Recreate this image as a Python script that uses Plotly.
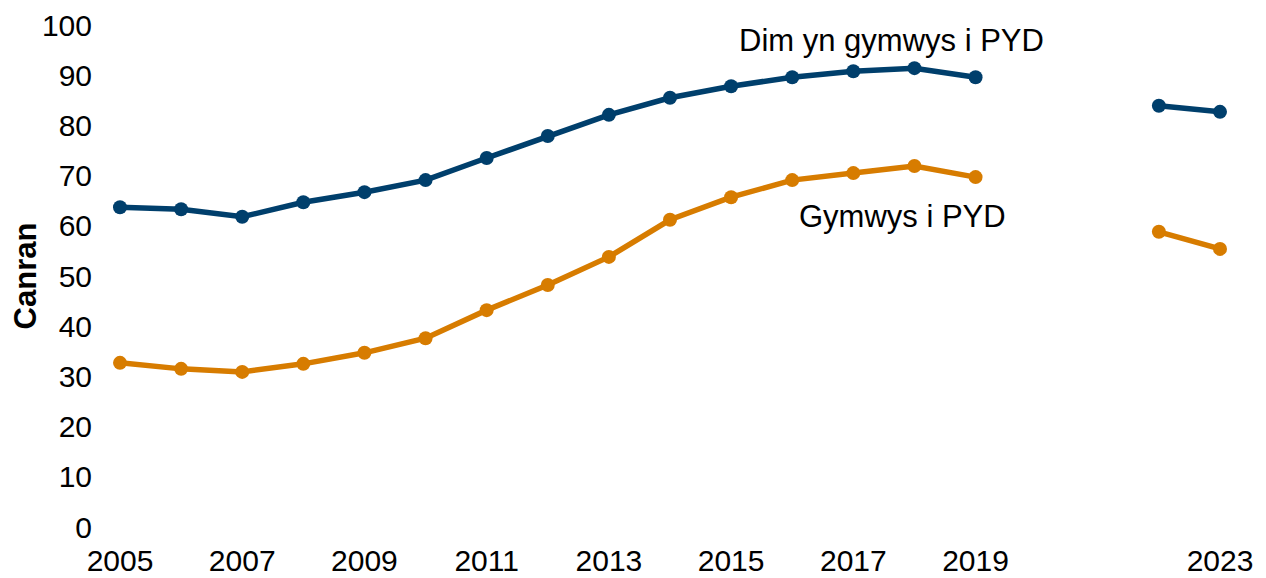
import plotly.graph_objects as go

years = [2005, 2006, 2007, 2008, 2009, 2010, 2011, 2012, 2013, 2014, 2015, 2016, 2017, 2018, 2019, 2020, 2021, 2022, 2023]
not_eligible = [63.7, 63.3, 61.8, 64.7, 66.7, 69.1, 73.5, 77.9, 82.1, 85.5, 87.8, 89.6, 90.8, 91.4, 89.6, None, None, 83.9, 82.7]
eligible = [32.7, 31.5, 30.9, 32.5, 34.7, 37.6, 43.2, 48.2, 53.8, 61.2, 65.7, 69.1, 70.5, 71.9, 69.7, None, None, 58.8, 55.4]
tick_years = [2005, 2007, 2009, 2011, 2013, 2015, 2017, 2019, 2023]
series_names = ["Dim yn gymwys i PYD", "Gymwys i PYD"]

BLUE = "#003f6c"
ORANGE = "#d77c00"
FONT = "Liberation Sans, Arial, sans-serif"

fig = go.Figure()
for vals, color, name in [(not_eligible, BLUE, series_names[0]), (eligible, ORANGE, series_names[1])]:
    fig.add_trace(go.Scatter(
        x=years, y=vals, name=name, mode="lines+markers",
        line=dict(color=color, width=5.5),
        marker=dict(color=color, size=14),
        connectgaps=False, cliponaxis=False, showlegend=False,
    ))

fig.add_annotation(x=2017.63, y=97, text=series_names[0], showarrow=False,
                   font=dict(size=31, color="black", family=FONT), xanchor="center", yanchor="middle")
fig.add_annotation(x=2017.8, y=61.8, text=series_names[1], showarrow=False,
                   font=dict(size=31, color="black", family=FONT), xanchor="center", yanchor="middle")

fig.update_layout(
    width=1266, height=578,
    margin=dict(l=112, r=54, t=17, b=59, autoexpand=False),
    paper_bgcolor="white", plot_bgcolor="white",
    font=dict(family=FONT, size=30, color="black"),
    xaxis=dict(range=[2005, 2023], tickvals=tick_years, ticktext=[str(t) for t in tick_years],
               showgrid=False, zeroline=False, showline=False, ticks="", automargin=False,
               ticklabelstandoff=13, tickfont=dict(size=30)),
    yaxis=dict(range=[0, 100], dtick=10, showgrid=False, zeroline=False, showline=False, ticks="",
               automargin=False,
               ticklabelstandoff=27, tickfont=dict(size=30),
               title=dict(text="<b>Canran</b>", font=dict(size=31), standoff=6)),
)

fig.write_html("out.html")
